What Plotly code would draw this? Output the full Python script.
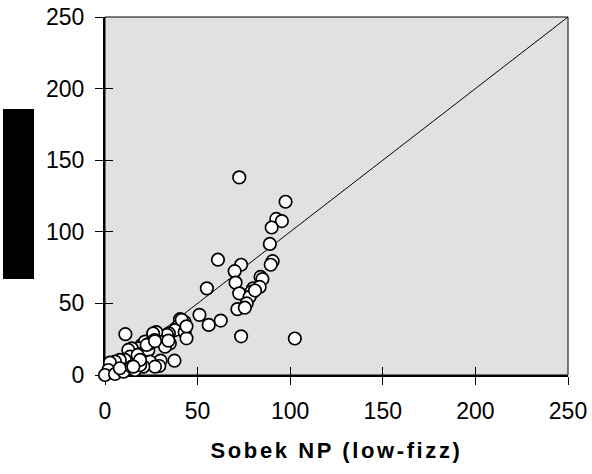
import plotly.graph_objects as go

# Data (x = Sobek NP low-fizz, y = other method)
sobek_x = [72.5, 97.5, 92.5, 95.5, 90, 89, 90.5, 89.5, 61, 73.5,
           70, 70.5, 84, 85, 55, 72.5, 80, 83.5, 79.5, 79,
           78, 76.5, 71.5, 75.5, 51, 56, 62.5, 73.5, 102.5, 40.5,
           43, 42, 39.5, 37.8, 43, 44, 34.5, 33.5, 27.7, 26,
           26.8, 30.6, 35, 32.4, 37.5, 30, 29.3, 19.8, 21.6, 18,
           17, 20.7, 23.4, 24.3, 27, 20.7, 14.4, 12.6, 13.5, 10.8,
           8, 5.4, 2.7, 1.8, 0, 5.4, 10, 8, 14.4, 16.2,
           19, 11, 24, 22.5, 17.6, 18.9, 15.3, 27, 34.2, 4,
           41.4, 44, 81]
other_y = [138, 121, 109, 107.5, 103, 91.5, 79.5, 77, 80.5, 77,
           72.5, 64.5, 68.5, 67, 60.5, 57, 60.5, 61.5, 57.5, 58,
           54.5, 50, 46, 47, 42, 35, 38, 27, 25.5, 39,
           37, 35, 34, 31.4, 30, 25.6, 29, 28, 30, 29,
           24.4, 23, 22, 19.8, 10, 10, 6.3, 21, 23.3, 18.6,
           15, 15, 17.5, 9.3, 5.8, 5.8, 18.6, 17.5, 12.8, 10.5,
           10.5, 9.3, 8.6, 3.5, 0, 0.7, 2.3, 4.7, 5.8, 3.5,
           7, 28.5, 22, 21, 14, 10.5, 5.8, 23.7, 24, -4,
           38.5, 34, 59]
identity_line = [0, 250]
tick_vals = [0, 50, 100, 150, 200, 250]
x_title = "Sobek NP (low-fizz)"

fig = go.Figure()
fig.add_trace(go.Scatter(x=identity_line, y=identity_line, mode="lines",
                         line=dict(color="black", width=1), hoverinfo="skip",
                         showlegend=False))
fig.add_trace(go.Scatter(x=sobek_x, y=other_y, mode="markers",
                         marker=dict(size=12.5, color="white",
                                     line=dict(color="black", width=1.7)),
                         cliponaxis=False, showlegend=False))
# dummy trace for the overlaid axes that draw the inner half of crossing ticks
fig.add_trace(go.Scatter(x=[None], y=[None], xaxis="x2", yaxis="y2",
                         showlegend=False, hoverinfo="skip"))

FONT = "Liberation Sans, Arial, sans-serif"
tickfont = dict(family=FONT, size=23, color="black")
common = dict(range=[0, 250], tickvals=tick_vals, showgrid=False,
              zeroline=False, automargin=False)

fig.update_layout(
    width=592, height=474,
    margin=dict(l=105, r=24, t=17, b=99, autoexpand=False),
    paper_bgcolor="white", plot_bgcolor="#e1e1e1",
    showlegend=False,
    xaxis=dict(**common, showline=True, linecolor="black", linewidth=2,
               ticks="outside", ticklen=8, tickwidth=1, tickcolor="black",
               tickfont=tickfont, ticklabelstandoff=6, layer="below traces",
               title=dict(text="<b>" + x_title + "</b>", standoff=20,
                          font=dict(family=FONT, size=22, color="black"))),
    yaxis=dict(**common, showline=True, linecolor="black", linewidth=2,
               ticks="outside", ticklen=8, tickwidth=1, tickcolor="black",
               tickfont=tickfont, ticklabelstandoff=6, layer="below traces"),
    xaxis2=dict(**common, overlaying="x", anchor="y2", side="bottom",
                showline=False, ticks="inside", ticklen=8, tickwidth=1,
                tickcolor="black", showticklabels=False, layer="below traces"),
    yaxis2=dict(**common, overlaying="y", anchor="x2", side="left",
                showline=False, ticks="inside", ticklen=8, tickwidth=1,
                tickcolor="black", showticklabels=False, layer="below traces"),
    shapes=[
        dict(type="rect", xref="paper", yref="paper", x0=0, x1=1, y0=0, y1=1,
             line=dict(color="black", width=1), fillcolor="rgba(0,0,0,0)",
             layer="below"),
        dict(type="rect", xref="paper", yref="paper", x0=-0.2203, x1=-0.1533,
             y0=0.268, y1=0.743, line=dict(width=0), fillcolor="black"),
    ],
)

post = (
    "var gd=document.getElementById('{plot_id}');"
    "function ls(){gd.querySelectorAll('.g-xtitle text').forEach(function(e){"
    "e.style.letterSpacing='2.6px';});}"
    "ls(); gd.on('plotly_afterplot', ls);"
)
fig.write_html("out.html", post_script=post)
